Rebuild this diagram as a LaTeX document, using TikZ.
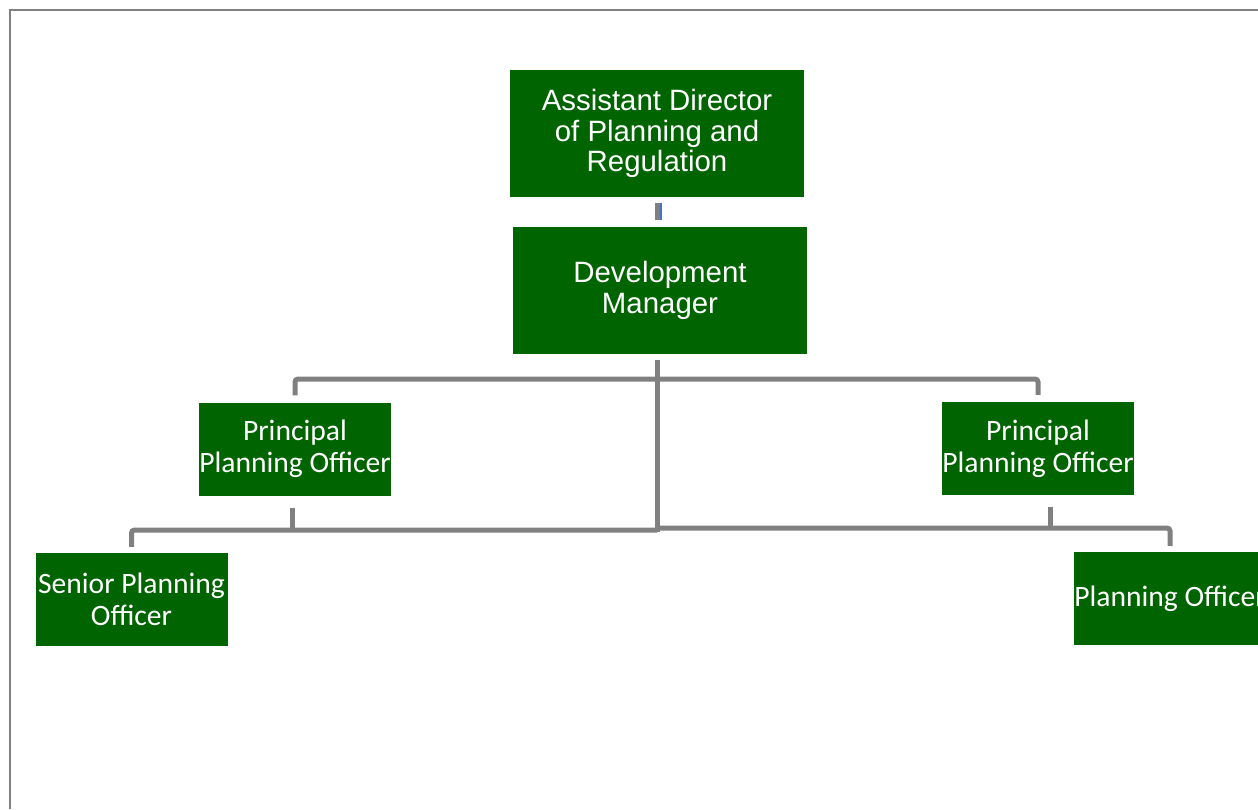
\documentclass[tikz,border=0pt]{standalone}
\usepackage{fontspec}
\setmainfont{Liberation Sans}
\newfontfamily\calib{Carlito}
\definecolor{boxgreen}{HTML}{006400}
\definecolor{linegray}{HTML}{808080}
\definecolor{tickblue}{HTML}{4472C4}
\tikzset{
  gbox/.style={fill=boxgreen, draw=none, text=white, align=center, inner sep=0pt},
  bigbox/.style={gbox, minimum width=294pt, minimum height=127pt, font=\fontsize{29.4}{30.5}\selectfont},
  smallbox/.style={gbox, minimum width=192pt, minimum height=93pt, font=\calib\fontsize{29.6}{32}\selectfont},
  conn/.style={draw=linegray, line width=5pt, rounded corners=3pt},
}
\begin{document}
\begin{tikzpicture}[x=1pt,y=-1pt]
\useasboundingbox (0,0) rectangle (1258,809);
\draw[linegray, line width=2pt] (1258,10) -- (10,10) -- (10,809);

\node[bigbox] (top) at (657,133.5) {Assistant Director\\of Planning and\\Regulation};
\node[bigbox] (dm) at (660,290.5) {Development\\Manager};
\node[smallbox] (ppoL) at (295,449) {Principal\\Planning Officer};
\node[smallbox] (ppoR) at (1038,448.5) {Principal\\Planning Officer};
\node[smallbox] (spo) at (131.5,599.5) {Senior Planning\\Officer};
\node[smallbox] (po) at (1170,598.5) {Planning Officer};

% small connector between top and dm
\coordinate (tk1) at (655,203);
\coordinate (tk2) at (660,220);
\coordinate (tk3) at (662,220);
\fill[linegray] (tk1) rectangle (tk2);
\fill[tickblue] (tk2 |- tk1) rectangle (tk3);

% trunk
\coordinate (hub1) at (657,379);
\coordinate (hubL) at (657,530);
\coordinate (hubR) at (657,528);
\draw[conn] ([yshift=-6pt]dm.south -| hub1) -- (657,532);
\draw[conn] ([yshift=7pt]ppoL.north) |- (hub1) -| ([yshift=7pt]ppoR.north);
\draw[conn] ([yshift=6pt]spo.north) |- (hubL);
\draw[conn] ([yshift=6pt]po.north) |- (hubR);
\coordinate (tL) at (292,528);
\coordinate (tR) at (1050,526);
\draw[conn] ([yshift=-12pt]ppoL.south -| tL) -- (tL);
\draw[conn] ([yshift=-12pt]ppoR.south -| tR) -- (tR);
\end{tikzpicture}
\end{document}
